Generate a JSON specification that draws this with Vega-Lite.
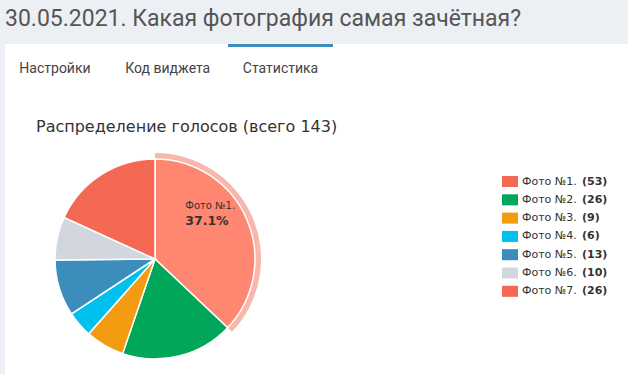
{
  "$schema": "https://vega.github.io/schema/vega-lite/v6.json",
  "background": "#ecf0f5",
  "padding": {"left": 5, "top": 8, "right": 0, "bottom": 0},
  "title": {
    "text": "30.05.2021. Какая фотография самая зачётная?",
    "anchor": "start",
    "font": "Roboto",
    "fontSize": 23,
    "fontWeight": "normal",
    "color": "#555555",
    "offset": 13
  },
  "datasets": {
    "photos": [
      {"photo": "Фото №1.", "votes": 53, "share": 0.371, "label": "Фото №1. (53)"},
      {"photo": "Фото №2.", "votes": 26, "share": 0.182, "label": "Фото №2. (26)"},
      {"photo": "Фото №3.", "votes": 9, "share": 0.063, "label": "Фото №3. (9)"},
      {"photo": "Фото №4.", "votes": 6, "share": 0.042, "label": "Фото №4. (6)"},
      {"photo": "Фото №5.", "votes": 13, "share": 0.091, "label": "Фото №5. (13)"},
      {"photo": "Фото №6.", "votes": 10, "share": 0.070, "label": "Фото №6. (10)"},
      {"photo": "Фото №7.", "votes": 26, "share": 0.182, "label": "Фото №7. (26)"}
    ],
    "tabs": [
      {"tab": "Настройки", "active": false},
      {"tab": "Код виджета", "active": false},
      {"tab": "Статистика", "active": true}
    ]
  },
  "spacing": 0,
  "vconcat": [
    {
      "width": 623,
      "height": 43,
      "view": {"fill": "white", "stroke": null},
      "data": {"name": "tabs"},
      "encoding": {
        "x": {"field": "tab", "type": "nominal", "sort": null, "axis": null,
              "scale": {"domain": ["Настройки", "Код виджета", "Статистика"],
                        "range": [-2.5, 328], "paddingInner": 0.069, "paddingOuter": 0}}
      },
      "layer": [
        {
          "transform": [{"filter": "datum.active"}],
          "mark": {"type": "rect", "color": "#3c8dbc"},
          "encoding": {
            "y": {"datum": 0, "type": "quantitative", "scale": {"domain": [0, 43], "reverse": true}, "axis": null},
            "y2": {"datum": 3}
          }
        },
        {
          "mark": {"type": "text", "font": "Roboto", "fontSize": 14, "color": "#444444", "dy": 3},
          "encoding": {"text": {"field": "tab"}}
        }
      ]
    },
    {
      "width": 623,
      "height": 57,
      "view": {"fill": "white", "stroke": null},
      "title": {
        "text": "Распределение голосов (всего 143)",
        "anchor": "start",
        "frame": "group",
        "font": "DejaVu Sans",
        "fontSize": 16,
        "fontWeight": "normal",
        "color": "#333333",
        "dx": 31,
        "offset": -48
      },
      "data": {"values": [{"t": ""}]},
      "mark": {"type": "text"},
      "encoding": {"text": {"field": "t"}}
    },
    {
      "spacing": 0,
      "resolve": {"legend": {"color": "independent", "shape": "independent"}},
      "hconcat": [
        {
          "width": 300,
          "height": 230,
          "view": {"fill": "white", "stroke": null},
          "data": {"name": "photos"},
          "encoding": {
            "theta": {"field": "votes", "type": "quantitative", "stack": true},
            "order": {"field": "photo", "type": "ordinal"}
          },
          "layer": [
            {
              "mark": {"type": "arc", "radius": 106, "radius2": 100, "color": "#f8b6ac"},
              "encoding": {
                "opacity": {"condition": {"test": "datum.photo === 'Фото №1.'", "value": 1}, "value": 0}
              }
            },
            {
              "mark": {"type": "arc", "radius": 100, "stroke": "white", "strokeWidth": 1.5},
              "encoding": {
                "color": {
                  "field": "photo", "type": "nominal", "legend": null,
                  "scale": {
                    "domain": ["Фото №1.", "Фото №2.", "Фото №3.", "Фото №4.", "Фото №5.", "Фото №6.", "Фото №7."],
                    "range": ["#f56954", "#00a65a", "#f39c12", "#00c0ef", "#3c8dbc", "#d2d6de", "#f56954"]
                  },
                  "condition": {"test": "datum.photo === 'Фото №1.'", "value": "#ff8670"}
                }
              }
            },
            {
              "mark": {"type": "text", "radius": 58, "align": "left", "baseline": "alphabetic", "dx": -23, "dy": -27,
                       "font": "DejaVu Sans", "fontSize": 10, "color": "#333333"},
              "encoding": {
                "text": {"field": "photo", "type": "nominal"},
                "opacity": {"condition": {"test": "datum.photo === 'Фото №1.'", "value": 1}, "value": 0}
              }
            },
            {
              "mark": {"type": "text", "radius": 58, "align": "left", "baseline": "alphabetic", "dx": -23, "dy": -11,
                       "font": "DejaVu Sans", "fontSize": 12.5, "fontWeight": "bold", "color": "#333333"},
              "encoding": {
                "text": {"field": "share", "type": "quantitative", "format": ".1%"},
                "opacity": {"condition": {"test": "datum.photo === 'Фото №1.'", "value": 1}, "value": 0}
              }
            }
          ]
        },
        {
          "width": 323,
          "height": 230,
          "view": {"fill": "white", "stroke": null},
          "data": {"name": "photos"},
          "mark": {"type": "point", "filled": true, "opacity": 0},
          "encoding": {
            "color": {
              "field": "photo", "type": "nominal",
              "scale": {
                "domain": ["Фото №1.", "Фото №2.", "Фото №3.", "Фото №4.", "Фото №5.", "Фото №6.", "Фото №7."],
                "range": ["#f56954", "#00a65a", "#f39c12", "#00c0ef", "#3c8dbc", "#d2d6de", "#f56954"]
              },
              "legend": {
                "orient": "none", "legendX": 197, "legendY": 29.5, "title": null, "padding": 0,
                "symbolType": "M-1,-0.69H1V0.69H-1Z", "symbolSize": 256, "symbolStrokeWidth": 0,
                "symbolOpacity": 1, "labelFont": "DejaVu Sans", "labelFontSize": 11, "labelColor": "#333333",
                "labelOffset": 4, "rowPadding": 4.3,
                "encode": {"symbols": {"update": {"opacity": {"value": 1}}}}
              }
            },
            "shape": {
              "field": "label", "type": "nominal",
              "scale": {"range": ["M-1,-0.69H1V0.69H-1Z"]},
              "legend": {
                "orient": "none", "legendX": 257, "legendY": 29.5, "title": null, "padding": 0,
                "symbolSize": 256, "symbolStrokeWidth": 0, "symbolOpacity": 0,
                "labelExpr": "split(datum.label, ' ')[2]",
                "labelFont": "DejaVu Sans", "labelFontSize": 11, "labelFontWeight": "bold", "labelColor": "#333333",
                "labelOffset": 4, "rowPadding": 4.3,
                "encode": {"symbols": {"update": {"opacity": {"value": 0}}}}
              }
            }
          }
        }
      ]
    }
  ],
  "config": {"view": {"stroke": null}}
}
